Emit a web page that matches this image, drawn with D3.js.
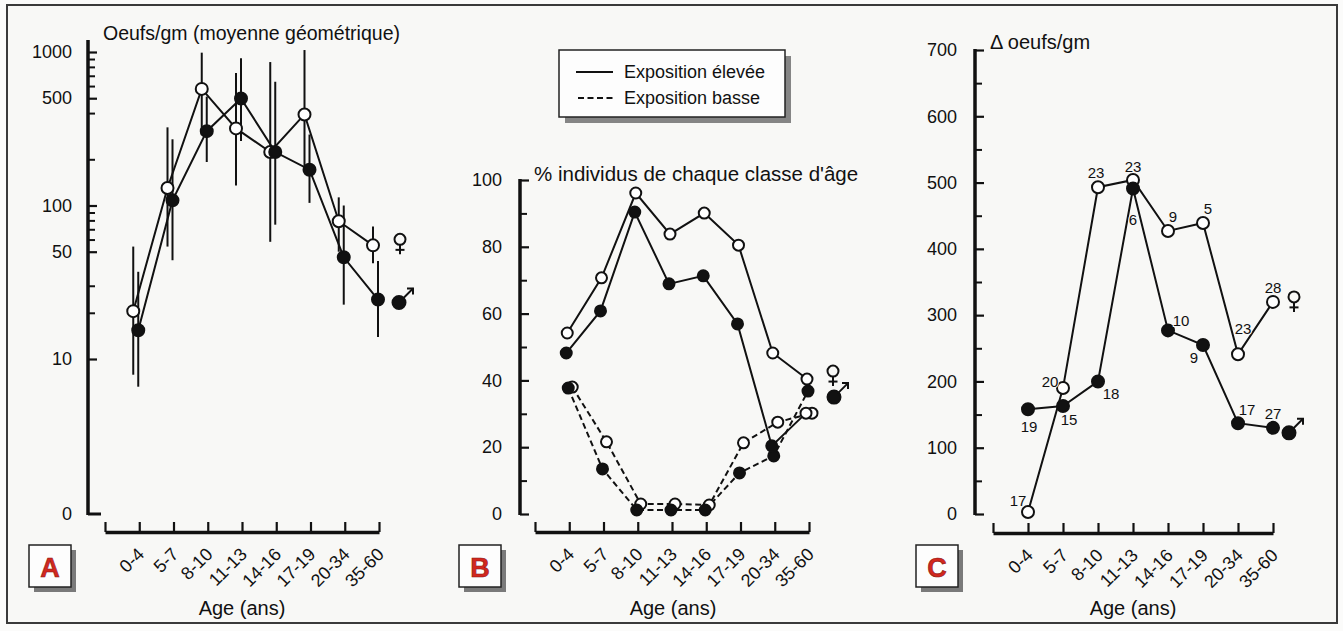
<!DOCTYPE html>
<html><head><meta charset="utf-8">
<script src="https://cdn.jsdelivr.net/npm/d3@7"></script>
<style>
html,body{margin:0;padding:0;background:#fbfbfa;}
svg{display:block;font-family:"Liberation Sans",Arial,Helvetica,sans-serif;}
</style></head><body>
<svg id="c" width="1343" height="631"></svg>
<script>
// ---------- DATA ----------
const ages = ["0-4","5-7","8-10","11-13","14-16","17-19","20-34","35-60"];

// Panel A : Oeufs/gm (moyenne géométrique), with error bars
const aFemale     = [20.5, 130, 575, 318, 223, 392, 79, 55];
const aFemaleLow  = [7.9, 54, 287, 135, 58, 180, 50, 42];
const aFemaleHigh = [54, 323, 990, 730, 860, 1030, 113, 73];
const aMale       = [15.4, 108, 305, 498, 223, 171, 46, 24.4];
const aMaleLow    = [6.6, 44, 192, 263, 75, 104, 22.6, 13.9];
const aMaleHigh   = [37, 270, 512, 910, 640, 290, 100, 43.5];
const aTicksMajor = [10, 50, 100, 500, 1000];
const aTicksMinor = [20, 30, 60, 70, 80, 90, 200, 400, 600, 700, 800, 900];

// Panel B : % individus de chaque classe d'âge
const bHighFemale = [54.2, 70.7, 96.1, 83.8, 90.1, 80.5, 48.2, 40.4];
const bHighMale   = [48.2, 60.8, 90.4, 68.9, 71.3, 56.9, 20.4, 30.2];
const bLowFemale  = [38.0, 21.6, 3.0, 3.0, 2.7, 21.3, 27.5, 30.2];
const bLowMale    = [37.7, 13.5, 1.2, 1.2, 1.2, 12.3, 17.4, 36.8];
const bTicksMajor = [0, 20, 40, 60, 80, 100];
const bTicksMinor = [10, 30, 50, 70, 90];

// Panel C : Δ oeufs/gm, with sample sizes
const cFemale  = [3, 190, 493, 504, 427, 439, 241, 320];
const cMale    = [158, 163, 200, 491, 277, 255, 137, 130];
const cFemaleN = [17, 20, 23, 23, 9, 5, 23, 28];
const cMaleN   = [19, 15, 18, 6, 10, 9, 17, 27];
const cTicksMajor = [0, 100, 200, 300, 400, 500, 600, 700];
const cTicksMinor = [50, 150, 250, 350, 450, 550, 650];

// ---------- DRAW ----------
const svg = d3.select("#c");
const INK = "#111";

svg.append("rect").attr("x",0).attr("y",0).attr("width",1343).attr("height",631).attr("fill","#fbfbfa");
svg.append("rect").attr("x",7).attr("y",5).attr("width",1330).attr("height",618)
  .attr("fill","#f8f8f6").attr("stroke","#3a3a3a").attr("stroke-width",2);

function xAxis(xs, y, labY) {
  const g = svg.append("g").attr("transform", `translate(0,${y})`)
    .call(d3.axisBottom(xs).tickSizeInner(-10).tickSizeOuter(0).tickPadding(0));
  g.select(".domain").attr("stroke", INK).attr("stroke-width", 3.5);
  g.selectAll(".tick line").attr("stroke", INK).attr("stroke-width", 2.2);
  g.selectAll(".tick text").attr("x",0).attr("y",0).attr("dy","0.35em")
    .attr("text-anchor","end").attr("transform",`translate(1,${labY - y}) rotate(-45)`)
    .attr("font-size",18).attr("fill",INK).attr("font-family",null);
  return g;
}
function yAxis(ys, x, major, minor, pad, fmt) {
  const g = svg.append("g").attr("transform", `translate(${x},0)`);
  const gM = g.append("g").call(d3.axisLeft(ys).tickValues(major).tickFormat(fmt || d3.format("d"))
      .tickSizeInner(-9).tickSizeOuter(0).tickPadding(pad));
  gM.select(".domain").remove();
  gM.selectAll(".tick line").attr("stroke", INK).attr("stroke-width", 2.2);
  gM.selectAll(".tick text").attr("font-size",18).attr("fill",INK).attr("font-family",null);
  const gm = g.append("g").call(d3.axisLeft(ys).tickValues(minor).tickFormat("")
      .tickSizeInner(-7).tickSizeOuter(0));
  gm.select(".domain").remove();
  gm.selectAll(".tick line").attr("stroke", INK).attr("stroke-width", 2);
  return g;
}
function vline(x, y1, y2, w) {
  svg.append("line").attr("x1",x).attr("x2",x).attr("y1",y1).attr("y2",y2)
    .attr("stroke",INK).attr("stroke-width",w||3.5);
}
function series(xs, ys, vals, o) {
  const dx = o.dx || 0;
  const pts = vals.map((v,i) => [xs(ages[i]) + dx, ys(v)]);
  svg.append("path").attr("d", d3.line()(pts)).attr("fill","none")
    .attr("stroke",INK).attr("stroke-width",2)
    .attr("stroke-dasharray", o.dash || null);
  return pts;
}
function dots(pts, r, filled, hollow) {
  svg.append("g").selectAll("circle").data(pts).join("circle")
    .attr("cx",d=>d[0]).attr("cy",d=>d[1]).attr("r",r)
    .attr("fill",(d,i)=> (filled && !(hollow||[]).includes(i)) ? INK : "#fff")
    .attr("stroke",INK).attr("stroke-width",2);
}
function femaleSym(x, y) {
  const g = svg.append("g").attr("stroke",INK).attr("stroke-width",2).attr("fill","none");
  g.append("circle").attr("cx",x).attr("cy",y).attr("r",5.5);
  g.append("line").attr("x1",x).attr("x2",x).attr("y1",y+5.5).attr("y2",y+15);
  g.append("line").attr("x1",x-4.5).attr("x2",x+4.5).attr("y1",y+10.5).attr("y2",y+10.5);
}
function maleSym(x, y) {
  const g = svg.append("g").attr("stroke",INK).attr("stroke-width",2).attr("fill","none");
  g.append("circle").attr("cx",x).attr("cy",y).attr("r",6.5).attr("fill",INK);
  g.append("line").attr("x1",x+4).attr("x2",x+14).attr("y1",y-4).attr("y2",y-14);
  g.append("polyline").attr("points",`${x+8},${y-14} ${x+14},${y-14} ${x+14},${y-8}`);
}
function panelLabel(x, y, letter) {
  svg.append("rect").attr("x",x+5).attr("y",y+5).attr("width",42).attr("height",42).attr("fill","#7a7a7a");
  svg.append("rect").attr("x",x).attr("y",y).attr("width",42).attr("height",42)
    .attr("fill","#fdfdfd").attr("stroke","#222").attr("stroke-width",1.5);
  svg.append("text").attr("x",x+21).attr("y",y+22).attr("dy","0.36em").attr("text-anchor","middle")
    .attr("font-size",27).attr("font-weight","bold").attr("fill","#d2281f")
    .attr("stroke","#8a1510").attr("stroke-width",0.6).text(letter);
}
function ageTitle(x) {
  svg.append("text").attr("x",x).attr("y",615).attr("text-anchor","middle")
    .attr("font-size",20).attr("fill",INK).text("Age (ans)");
}

// ===== Panel A =====
const xA = d3.scalePoint().domain([""].concat(ages)).range([105, 379]);
const yA = d3.scaleLog().domain([10, 1000]).range([359, 52]);
xAxis(xA, 532, 551);
yAxis(yA, 88, aTicksMajor, aTicksMinor, 16);
vline(88, 40, 515);
svg.append("line").attr("x1",88).attr("x2",101).attr("y1",514).attr("y2",514).attr("stroke",INK).attr("stroke-width",3);
svg.append("text").attr("x",72).attr("y",514).attr("dy","0.32em").attr("text-anchor","end")
  .attr("font-size",18).attr("fill",INK).text("0");
svg.append("text").attr("x",103).attr("y",40).attr("font-size",19.5).attr("fill",INK)
  .text("Oeufs/gm (moyenne géométrique)");
// error bars
[[aFemaleLow, aFemaleHigh, -6], [aMaleLow, aMaleHigh, -1]].forEach(([lo, hi, dx]) => {
  svg.append("g").selectAll("line").data(ages).join("line")
    .attr("x1",(d)=>xA(d)+dx).attr("x2",(d)=>xA(d)+dx)
    .attr("y1",(d,i)=>yA(lo[i])).attr("y2",(d,i)=>yA(hi[i]))
    .attr("stroke",INK).attr("stroke-width",2);
});
const pAf = series(xA, yA, aFemale, {dx:-6});
const pAm = series(xA, yA, aMale, {dx:-1});
dots(pAf, 6, false);
dots(pAm, 6, true);
femaleSym(xA("35-60") + 21, yA(aFemale[7]) - 6);
maleSym(xA("35-60") + 20, yA(aMale[7]) + 3);
panelLabel(29, 545, "A");
ageTitle(242);

// ===== Panel B =====
const xB = d3.scalePoint().domain([""].concat(ages)).range([535, 809]);
const yB = d3.scaleLinear().domain([0, 100]).range([514, 180]);
xAxis(xB, 532, 551);
yAxis(yB, 520, bTicksMajor, bTicksMinor, 18);
vline(520, 179, 515);
svg.append("text").attr("x",534).attr("y",181).attr("font-size",20.5).attr("fill",INK)
  .text("% individus de chaque classe d'âge");
const DASH = "6,3.5";
const pBlf = series(xB, yB, bLowFemale, {dx:3, dash:DASH});
const pBlm = series(xB, yB, bLowMale, {dx:-1, dash:DASH});
const pBhf = series(xB, yB, bHighFemale, {dx:-2});
const pBhm = series(xB, yB, bHighMale, {dx:-3});
dots(pBlf, 5.5, false);
dots(pBlm, 5.5, true);
dots(pBhf, 5.5, false);
dots(pBhm, 5.5, true, [7]);
femaleSym(xB("35-60") + 24, yB(bHighFemale[7]) - 8);
maleSym(xB("35-60") + 25, yB(bLowMale[7]) + 6);
panelLabel(459, 545, "B");
ageTitle(673);

// legend
svg.append("rect").attr("x",565).attr("y",56).attr("width",226).attr("height",67).attr("fill","#858585");
svg.append("rect").attr("x",559).attr("y",50).attr("width",226).attr("height",67)
  .attr("fill","#fdfdfd").attr("stroke","#222").attr("stroke-width",1.5);
svg.append("line").attr("x1",576).attr("x2",613).attr("y1",72).attr("y2",72).attr("stroke",INK).attr("stroke-width",2);
svg.append("line").attr("x1",578).attr("x2",613).attr("y1",98).attr("y2",98).attr("stroke",INK).attr("stroke-width",2).attr("stroke-dasharray",DASH);
svg.append("text").attr("x",624).attr("y",72).attr("dy","0.35em").attr("font-size",18).attr("fill",INK).text("Exposition élevée");
svg.append("text").attr("x",624).attr("y",98).attr("dy","0.35em").attr("font-size",18).attr("fill",INK).text("Exposition basse");

// ===== Panel C =====
const xC = d3.scalePoint().domain([""].concat(ages)).range([993, 1273]);
const yC = d3.scaleLinear().domain([0, 700]).range([514, 50]);
xAxis(xC, 533, 552);
yAxis(yC, 975, cTicksMajor, cTicksMinor, 18);
vline(975, 49, 515);
svg.append("text").attr("x",990).attr("y",49).attr("font-size",20).attr("fill",INK).text("Δ oeufs/gm");
const pCf = series(xC, yC, cFemale, {});
const pCm = series(xC, yC, cMale, {});
dots(pCf, 6, false);
dots(pCm, 6, true);
const offF = [[-10,-11],[-13,-6],[-2,-14],[0,-13],[5,-14],[5,-14],[5,-26],[0,-14]];
const offM = [[1,17],[6,14],[13,12],[0,31],[13,-10],[-9,13],[9,-13],[0,-14]];
[[pCf, cFemaleN, offF], [pCm, cMaleN, offM]].forEach(([pts, ns, off]) => {
  svg.append("g").selectAll("text").data(pts).join("text")
    .attr("x",(d,i)=>d[0]+off[i][0]).attr("y",(d,i)=>d[1]+off[i][1]).attr("dy","0.35em")
    .attr("text-anchor","middle").attr("font-size",15).attr("fill",INK)
    .attr("paint-order","stroke").attr("stroke","#f8f8f6").attr("stroke-width",2)
    .text((d,i)=>ns[i]);
});
femaleSym(xC("35-60") + 21, yC(cFemale[7]) - 5);
maleSym(xC("35-60") + 16, yC(cMale[7]) + 5);
panelLabel(916, 545, "C");
ageTitle(1133);
</script>
</body></html>
